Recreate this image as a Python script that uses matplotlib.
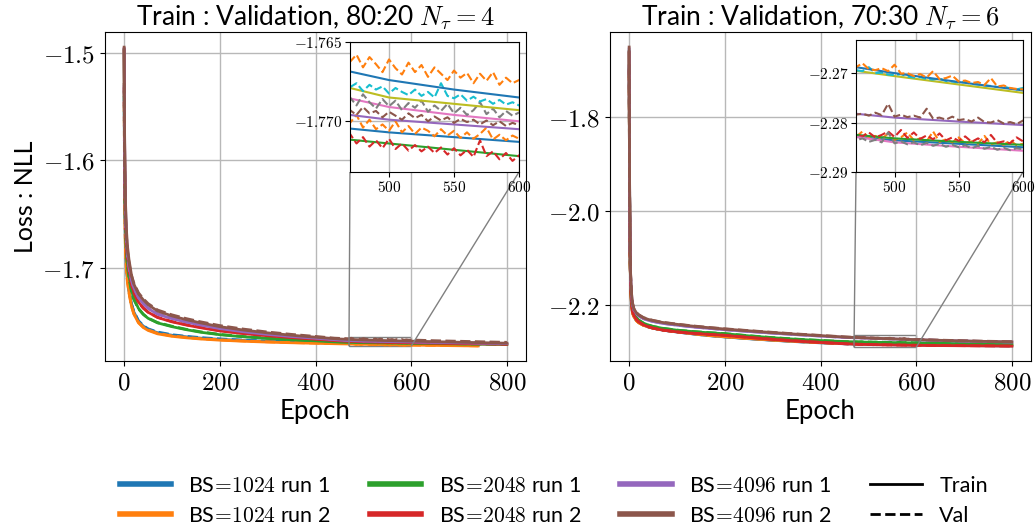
import matplotlib
matplotlib.use("Agg")
import matplotlib.pyplot as plt
from matplotlib.lines import Line2D
from matplotlib.ticker import FuncFormatter
from mpl_toolkits.axes_grid1.inset_locator import mark_inset

plt.rcParams.update({
    "font.family": ["Lato", "DejaVu Sans"],
    "mathtext.fontset": "cm",
    "axes.unicode_minus": True,
})

# ---------------- epochs ----------------
E_TRAIN = [0, 1, 2, 3, 5, 7, 10, 15, 20, 30, 40, 50, 70, 100, 130, 160, 200, 250,
           300, 350, 400, 450, 500, 550, 600, 650, 700, 740, 800]
E_VAL = [0, 1, 2, 3, 5, 7, 10, 15, 20, 30, 40, 50, 70, 100, 130, 160, 200, 250, 300,
         350, 400, 440,
         470, 475, 480, 485, 490, 495, 500, 505, 510, 515, 520, 525, 530, 535, 540,
         545, 550, 555, 560, 565, 570, 575, 580, 585, 590, 595, 600,
         650, 700, 740, 800]

RUN_LABELS = ["BS$\\!=\\!1024$ run 1", "BS$\\!=\\!1024$ run 2", "BS$\\!=\\!2048$ run 1",
              "BS$\\!=\\!2048$ run 2", "BS$\\!=\\!4096$ run 1", "BS$\\!=\\!4096$ run 2"]
TITLES = ["Train : Validation, 80:20 $N_\\tau = 4$",
          "Train : Validation, 70:30 $N_\\tau = 6$"]

# ---------------- left panel (80:20) ----------------
L_TRAIN_1024_R1 = [-1.4970, -1.6000, -1.6500, -1.6750, -1.6970, -1.7090, -1.7200, -1.7330, -1.7410, -1.7500,
                   -1.7545, -1.7575, -1.7607, -1.7630, -1.7645, -1.7657, -1.7668, -1.7679, -1.7687, -1.7694,
                   -1.7699, -1.7703, -1.7707, -1.7710, -1.7713, -1.7716, -1.7719, -1.7722]
L_TRAIN_1024_R2 = [-1.4980, -1.6050, -1.6550, -1.6800, -1.7000, -1.7120, -1.7220, -1.7350, -1.7430, -1.7515,
                   -1.7558, -1.7585, -1.7617, -1.7640, -1.7654, -1.7665, -1.7676, -1.7686, -1.7694, -1.7700,
                   -1.7705, -1.7710, -1.7714, -1.7718, -1.7722, -1.7725, -1.7728, -1.7730]
L_TRAIN_2048_R1 = [-1.4970, -1.5900, -1.6350, -1.6600, -1.6830, -1.6970, -1.7070, -1.7200, -1.7285, -1.7380,
                   -1.7435, -1.7472, -1.7515, -1.7550, -1.7578, -1.7602, -1.7625, -1.7645, -1.7660, -1.7672,
                   -1.7682, -1.7694, -1.7699, -1.7702, -1.7705, -1.7708, -1.7711, -1.7713, -1.7716]
L_TRAIN_2048_R2 = [-1.4960, -1.5850, -1.6280, -1.6520, -1.6760, -1.6900, -1.7010, -1.7140, -1.7225, -1.7320,
                   -1.7375, -1.7415, -1.7465, -1.7505, -1.7535, -1.7560, -1.7590, -1.7615, -1.7635, -1.7652,
                   -1.7667, -1.7682, -1.7691, -1.7696, -1.7700, -1.7704, -1.7707, -1.7710, -1.7714]
L_TRAIN_4096_R1 = [-1.4960, -1.5800, -1.6220, -1.6460, -1.6710, -1.6850, -1.6970, -1.7100, -1.7185, -1.7280,
                   -1.7335, -1.7380, -1.7435, -1.7475, -1.7508, -1.7535, -1.7568, -1.7598, -1.7622, -1.7642,
                   -1.7658, -1.7675, -1.7685, -1.7689, -1.7693, -1.7697, -1.7701, -1.7704, -1.7708]
L_TRAIN_4096_R2 = [-1.4945, -1.5750, -1.6170, -1.6410, -1.6660, -1.6800, -1.6920, -1.7060, -1.7150, -1.7245,
                   -1.7300, -1.7345, -1.7405, -1.7450, -1.7485, -1.7515, -1.7550, -1.7582, -1.7608, -1.7630,
                   -1.7648, -1.7665, -1.7674, -1.7680, -1.7685, -1.7690, -1.7695, -1.7699, -1.7704]

L_VAL_1024_R1 = [-1.5400, -1.6300, -1.6650, -1.6840, -1.7020, -1.7120, -1.7215, -1.7335, -1.7405, -1.7495,
                 -1.7540, -1.7570, -1.7600, -1.7625, -1.7640, -1.7652, -1.7664, -1.7675, -1.7684, -1.7690,
                 -1.7696, -1.7699,
                 -1.77010, -1.76960, -1.77040, -1.76990, -1.77050, -1.77020, -1.77060, -1.77000, -1.77070,
                 -1.77030, -1.77080, -1.77040, -1.77060, -1.77095, -1.77050, -1.77090, -1.77060, -1.77105,
                 -1.77070, -1.77110, -1.77080, -1.77040, -1.77115, -1.77085, -1.77120, -1.77090, -1.77110,
                 -1.7714, -1.7718, -1.7721]
L_VAL_1024_R2 = [-1.5450, -1.6350, -1.6700, -1.6880, -1.7050, -1.7145, -1.7235, -1.7355, -1.7425, -1.7510,
                 -1.7555, -1.7580, -1.7612, -1.7636, -1.7650, -1.7662, -1.7673, -1.7683, -1.7691, -1.7698,
                 -1.7703, -1.7707,
                 -1.77080, -1.77140, -1.77100, -1.77160, -1.77120, -1.77170, -1.77110, -1.77175, -1.77140,
                 -1.77185, -1.77150, -1.77190, -1.77160, -1.77200, -1.77165, -1.77210, -1.77170, -1.77215,
                 -1.77180, -1.77225, -1.77120, -1.77220, -1.77190, -1.77240, -1.77200, -1.77250, -1.77215,
                 -1.7724, -1.7726, -1.7729]
L_VAL_2048_R1 = [-1.5350, -1.6150, -1.6500, -1.6700, -1.6890, -1.7000, -1.7095, -1.7215, -1.7295, -1.7385,
                 -1.7435, -1.7470, -1.7512, -1.7546, -1.7575, -1.7598, -1.7622, -1.7642, -1.7657, -1.7669,
                 -1.7679, -1.7688,
                 -1.76930, -1.76960, -1.76910, -1.76950, -1.76935, -1.76975, -1.76940, -1.76965, -1.76990,
                 -1.76950, -1.76980, -1.76960, -1.77000, -1.76970, -1.76995, -1.76975, -1.77010, -1.76985,
                 -1.77005, -1.76990, -1.77020, -1.76995, -1.77025, -1.77000, -1.77030, -1.77010, -1.77025,
                 -1.7705, -1.7709, -1.7711, -1.7714]
L_VAL_2048_R2 = [-1.5320, -1.6100, -1.6440, -1.6640, -1.6820, -1.6940, -1.7035, -1.7155, -1.7235, -1.7325,
                 -1.7378, -1.7415, -1.7463, -1.7502, -1.7532, -1.7556, -1.7586, -1.7611, -1.7631, -1.7648,
                 -1.7663, -1.7677,
                 -1.76850, -1.76900, -1.76830, -1.76880, -1.76920, -1.76860, -1.76905, -1.76870, -1.76930,
                 -1.76885, -1.76915, -1.76870, -1.76940, -1.76900, -1.76935, -1.76890, -1.76950, -1.76915,
                 -1.76960, -1.76930, -1.76880, -1.76955, -1.76920, -1.76975, -1.76935, -1.76965, -1.76945,
                 -1.7700, -1.7704, -1.7707, -1.7712]
L_VAL_4096_R1 = [-1.5300, -1.6050, -1.6380, -1.6580, -1.6770, -1.6890, -1.6995, -1.7115, -1.7190, -1.7280,
                 -1.7333, -1.7375, -1.7430, -1.7470, -1.7503, -1.7530, -1.7563, -1.7593, -1.7617, -1.7637,
                 -1.7653, -1.7669,
                 -1.76785, -1.76760, -1.76810, -1.76770, -1.76800, -1.76780, -1.76825, -1.76790, -1.76815,
                 -1.76835, -1.76800, -1.76840, -1.76815, -1.76850, -1.76760, -1.76840, -1.76855, -1.76830,
                 -1.76870, -1.76845, -1.76875, -1.76860, -1.76890, -1.76865, -1.76895, -1.76880, -1.76900,
                 -1.7693, -1.7697, -1.7700, -1.7705]
L_VAL_4096_R2 = [-1.5280, -1.6000, -1.6340, -1.6540, -1.6720, -1.6840, -1.6950, -1.7070, -1.7140, -1.7235,
                 -1.7290, -1.7335, -1.7395, -1.7440, -1.7475, -1.7505, -1.7540, -1.7573, -1.7600, -1.7622,
                 -1.7641, -1.7657,
                 -1.76625, -1.76580, -1.76660, -1.76595, -1.76640, -1.76690, -1.76610, -1.76665, -1.76705,
                 -1.76630, -1.76690, -1.76645, -1.76720, -1.76660, -1.76700, -1.76740, -1.76680, -1.76725,
                 -1.76695, -1.76760, -1.76700, -1.76745, -1.76690, -1.76770, -1.76725, -1.76760, -1.76740,
                 -1.7681, -1.7686, -1.7690, -1.7696]

# ---------------- right panel (70:30) ----------------
R_TRAIN_1024_R1 = [-1.6630, -1.9680, -2.0980, -2.1580, -2.1980, -2.2150, -2.2245, -2.2325, -2.2370, -2.2428,
                   -2.2465, -2.2492, -2.2533, -2.2574, -2.2610, -2.2645, -2.2678, -2.2716, -2.2749, -2.2779,
                   -2.2804, -2.2824, -2.2836, -2.2843, -2.2850, -2.2856, -2.2861, -2.2865, -2.2870]
R_TRAIN_1024_R2 = [-1.6640, -1.9700, -2.1000, -2.1600, -2.1990, -2.2160, -2.2250, -2.2330, -2.2375, -2.2430,
                   -2.2465, -2.2490, -2.2530, -2.2570, -2.2605, -2.2640, -2.2674, -2.2712, -2.2745, -2.2775,
                   -2.2800, -2.2820, -2.2832, -2.2839, -2.2845, -2.2851, -2.2857, -2.2861, -2.2866]
R_TRAIN_2048_R1 = [-1.6600, -1.9600, -2.0900, -2.1500, -2.1900, -2.2080, -2.2190, -2.2270, -2.2320, -2.2385,
                   -2.2425, -2.2455, -2.2495, -2.2535, -2.2562, -2.2585, -2.2610, -2.2655, -2.2695, -2.2728,
                   -2.2755, -2.2777, -2.2790, -2.2798, -2.2805, -2.2813, -2.2821, -2.2827, -2.2836]
R_TRAIN_2048_R2 = [-1.6620, -1.9650, -2.0950, -2.1550, -2.1940, -2.2120, -2.2225, -2.2305, -2.2355, -2.2420,
                   -2.2460, -2.2490, -2.2532, -2.2570, -2.2598, -2.2620, -2.2645, -2.2690, -2.2730, -2.2765,
                   -2.2795, -2.2822, -2.2840, -2.2849, -2.2857, -2.2862, -2.2866, -2.2869, -2.2873]
R_TRAIN_4096_R1 = [-1.6550, -1.9450, -2.0750, -2.1350, -2.1780, -2.1980, -2.2100, -2.2180, -2.2230, -2.2290,
                   -2.2325, -2.2350, -2.2390, -2.2428, -2.2462, -2.2490, -2.2525, -2.2562, -2.2598, -2.2630,
                   -2.2660, -2.2688, -2.2706, -2.2723, -2.2740, -2.2754, -2.2767, -2.2776, -2.2787]
R_TRAIN_4096_R2 = [-1.6510, -1.9400, -2.0700, -2.1300, -2.1750, -2.1950, -2.2080, -2.2160, -2.2210, -2.2270,
                   -2.2305, -2.2330, -2.2370, -2.2410, -2.2445, -2.2475, -2.2510, -2.2548, -2.2585, -2.2620,
                   -2.2650, -2.2680, -2.2700, -2.2718, -2.2735, -2.2750, -2.2763, -2.2772, -2.2783]

R_VAL_1024_R1 = [-1.7000, -1.9850, -2.1050, -2.1620, -2.2000, -2.2160, -2.2250, -2.2328, -2.2372, -2.2430,
                 -2.2466, -2.2493, -2.2533, -2.2573, -2.2608, -2.2642, -2.2676, -2.2713, -2.2746, -2.2776,
                 -2.2801, -2.2818,
                 -2.28290, -2.28180, -2.28310, -2.28270, -2.28330, -2.28220, -2.28350, -2.28300, -2.28200,
                 -2.28360, -2.28320, -2.28380, -2.28180, -2.28390, -2.28340, -2.28400, -2.28300, -2.28420,
                 -2.28380, -2.28430, -2.28270, -2.28440, -2.28400, -2.28450, -2.28360, -2.28460, -2.28430,
                 -2.2852, -2.2858, -2.2862, -2.2867]
R_VAL_1024_R2 = [-1.7020, -1.9880, -2.1080, -2.1640, -2.2010, -2.2170, -2.2253, -2.2332, -2.2376, -2.2431,
                 -2.2466, -2.2491, -2.2531, -2.2570, -2.2604, -2.2638, -2.2672, -2.2709, -2.2742, -2.2772,
                 -2.2797, -2.2815,
                 -2.28240, -2.28280, -2.28200, -2.28300, -2.28250, -2.28180, -2.28290, -2.28150, -2.28310,
                 -2.28200, -2.28330, -2.28260, -2.28340, -2.28220, -2.28360, -2.28300, -2.28370, -2.28280,
                 -2.28390, -2.28320, -2.28400, -2.28250, -2.28410, -2.28380, -2.28420, -2.28300, -2.28380,
                 -2.2848, -2.2854, -2.2858, -2.2863]
R_VAL_2048_R1 = [-1.6950, -1.9750, -2.0980, -2.1550, -2.1930, -2.2100, -2.2195, -2.2272, -2.2322, -2.2386,
                 -2.2425, -2.2455, -2.2494, -2.2533, -2.2560, -2.2582, -2.2607, -2.2652, -2.2692, -2.2725,
                 -2.2752, -2.2772,
                 -2.27840, -2.27820, -2.27860, -2.27800, -2.27850, -2.27620, -2.27880, -2.27840, -2.27890,
                 -2.27860, -2.27900, -2.27720, -2.27920, -2.27900, -2.27940, -2.27880, -2.27950, -2.27930,
                 -2.27980, -2.27900, -2.27990, -2.28000, -2.27950, -2.28020, -2.27990, -2.28030, -2.27960,
                 -2.2810, -2.2818, -2.2824, -2.2833]
R_VAL_2048_R2 = [-1.6980, -1.9800, -2.1020, -2.1580, -2.1960, -2.2130, -2.2228, -2.2306, -2.2356, -2.2420,
                 -2.2460, -2.2490, -2.2532, -2.2569, -2.2597, -2.2619, -2.2643, -2.2688, -2.2728, -2.2763,
                 -2.2793, -2.2817,
                 -2.28360, -2.28320, -2.28390, -2.28350, -2.28400, -2.28200, -2.28420, -2.28380, -2.28440,
                 -2.28400, -2.28460, -2.28410, -2.28470, -2.28430, -2.28490, -2.28450, -2.28500, -2.28460,
                 -2.28520, -2.28470, -2.28530, -2.28490, -2.28550, -2.28510, -2.28560, -2.28520, -2.28540,
                 -2.2860, -2.2864, -2.2867, -2.2871]
R_VAL_4096_R1 = [-1.6900, -1.9600, -2.0820, -2.1380, -2.1790, -2.1990, -2.2100, -2.2178, -2.2228, -2.2288,
                 -2.2323, -2.2348, -2.2388, -2.2426, -2.2460, -2.2488, -2.2523, -2.2560, -2.2596, -2.2628,
                 -2.2658, -2.2682,
                 -2.26940, -2.26960, -2.26880, -2.27000, -2.26990, -2.27030, -2.27040, -2.27020, -2.27070,
                 -2.27090, -2.27080, -2.27120, -2.27130, -2.27110, -2.27160, -2.27170, -2.27190, -2.27180,
                 -2.27220, -2.27230, -2.27250, -2.27260, -2.27280, -2.27270, -2.27310, -2.27330, -2.27300,
                 -2.2752, -2.2765, -2.2774, -2.2785]
R_VAL_4096_R2 = [-1.6880, -1.9550, -2.0780, -2.1330, -2.1760, -2.1960, -2.2082, -2.2158, -2.2205, -2.2266,
                 -2.2300, -2.2326, -2.2366, -2.2405, -2.2440, -2.2470, -2.2505, -2.2543, -2.2580, -2.2615,
                 -2.2645, -2.2670,
                 -2.26880, -2.26800, -2.26920, -2.26940, -2.26900, -2.26960, -2.26830, -2.27010, -2.27000,
                 -2.27060, -2.27020, -2.27090, -2.26960, -2.27120, -2.27100, -2.27050, -2.27170, -2.27150,
                 -2.27200, -2.27180, -2.27240, -2.27100, -2.27270, -2.27250, -2.27300, -2.27320, -2.27330,
                 -2.2746, -2.2759, -2.2768, -2.2779]

L_TRAIN = [L_TRAIN_1024_R1, L_TRAIN_1024_R2, L_TRAIN_2048_R1, L_TRAIN_2048_R2, L_TRAIN_4096_R1, L_TRAIN_4096_R2]
L_VAL = [L_VAL_1024_R1, L_VAL_1024_R2, L_VAL_2048_R1, L_VAL_2048_R2, L_VAL_4096_R1, L_VAL_4096_R2]
R_TRAIN = [R_TRAIN_1024_R1, R_TRAIN_1024_R2, R_TRAIN_2048_R1, R_TRAIN_2048_R2, R_TRAIN_4096_R1, R_TRAIN_4096_R2]
R_VAL = [R_VAL_1024_R1, R_VAL_1024_R2, R_VAL_2048_R1, R_VAL_2048_R2, R_VAL_4096_R1, R_VAL_4096_R2]

MAIN_YTICKS = [[-1.7, -1.6, -1.5], [-2.2, -2.0, -1.8]]
MAIN_YLIM = [(-1.787, -1.4804), (-2.319, -1.619)]
INSET_YTICKS = [[-1.770, -1.765], [-2.29, -2.28, -2.27]]
INSET_YLIM = [(-1.7732, -1.765), (-2.29, -2.2633)]
INSET_FMT = ["{:.3f}", "{:.2f}"]
MAIN_FMT = ["{:.1f}", "{:.1f}"]

fig = plt.figure(figsize=(10.35, 5.26), dpi=100)
W, H = 1035.0, 526.0
main_boxes = [(105, 32, 526, 361), (610, 32, 1031, 361)]
inset_boxes = [(350, 42, 519, 172), (856, 40, 1023, 172)]


def box(b):
    x0, y0, x1, y1 = b
    return [x0 / W, 1 - y1 / H, (x1 - x0) / W, (y1 - y0) / H]


def mfmt(fmt):
    return FuncFormatter(lambda v, p: "$" + fmt.format(v) + "$")


for i, (trains, vals) in enumerate([(L_TRAIN, L_VAL), (R_TRAIN, R_VAL)]):
    ax = fig.add_axes(box(main_boxes[i]))
    for k in range(6):
        tr, va = trains[k], vals[k]
        ax.plot(E_TRAIN[:len(tr)], tr, color=f"C{k}", lw=2, ls="-")
        ax.plot(E_VAL[:len(va)], va, color=f"C{k}", lw=2, ls="--")
    ax.set_xlim(-40, 840)
    ax.set_ylim(*MAIN_YLIM[i])
    ax.set_xticks([0, 200, 400, 600, 800])
    ax.set_yticks(MAIN_YTICKS[i])
    ax.xaxis.set_major_formatter(mfmt("{:.0f}"))
    ax.yaxis.set_major_formatter(mfmt(MAIN_FMT[i]))
    ax.tick_params(labelsize=18)
    ax.grid(True, color="#b8b8b8", lw=1)
    ax.set_xlabel("Epoch", fontsize=18.5, labelpad=4)
    if i == 0:
        ax.set_ylabel("Loss : NLL", fontsize=18)
    ax.set_title(TITLES[i], fontsize=19, pad=5)

    axins = fig.add_axes(box(inset_boxes[i]))
    for k in range(6):
        tr, va = trains[k], vals[k]
        axins.plot(E_TRAIN[:len(tr)], tr, color=f"C{(2 * k) % 10}", lw=1.5, ls="-")
        axins.plot(E_VAL[:len(va)], va, color=f"C{(2 * k + 1) % 10}", lw=1.5, ls="--")
    axins.set_xlim(470, 600)
    axins.set_ylim(*INSET_YLIM[i])
    axins.set_xticks([500, 550, 600])
    axins.set_yticks(INSET_YTICKS[i])
    axins.xaxis.set_major_formatter(mfmt("{:.0f}"))
    axins.yaxis.set_major_formatter(mfmt(INSET_FMT[i]))
    axins.tick_params(labelsize=11, pad=2)
    axins.grid(True, color="#b8b8b8", lw=1)
    mark_inset(ax, axins, loc1=3, loc2=4, fc="none", ec="0.5", lw=1)

handles = [Line2D([], [], color=f"C{k}", lw=4) for k in range(6)]
handles += [Line2D([], [], color="black", lw=2, ls="-"),
            Line2D([], [], color="black", lw=2, ls="--")]
labels = RUN_LABELS + ["Train", "Val"]
fig.legend(handles, labels, loc="center", bbox_to_anchor=(0.535, 0.048), ncol=4,
           frameon=False, fontsize=15.5, handlelength=2.4, columnspacing=1.8,
           labelspacing=0.45, handletextpad=0.8)

fig.savefig("out.png", dpi=100)
